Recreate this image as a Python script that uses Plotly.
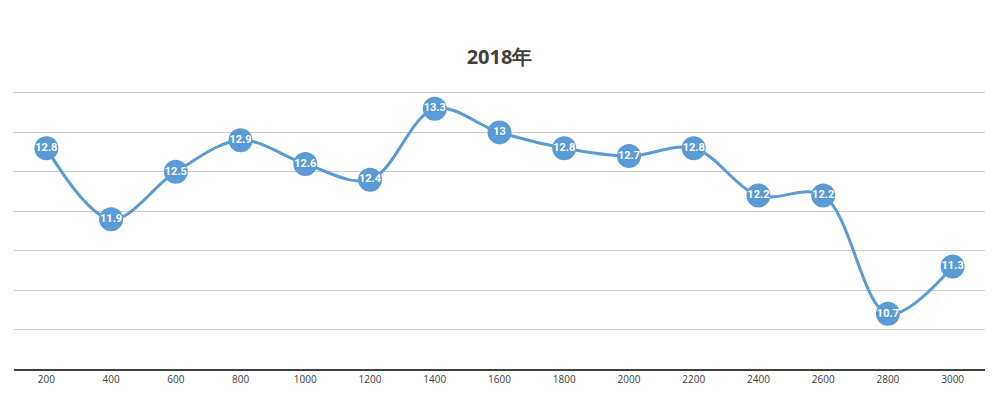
import plotly.graph_objects as go

categories = ["200", "400", "600", "800", "1000", "1200", "1400", "1600", "1800",
              "2000", "2200", "2400", "2600", "2800", "3000"]
values = [12.8, 11.9, 12.5, 12.9, 12.6, 12.4, 13.3, 13, 12.8, 12.7, 12.8, 12.2, 12.2, 10.7, 11.3]
labels = [str(v) for v in values]
title_text = "2018年"

fig = go.Figure()
fig.add_trace(go.Scatter(
    x=categories, y=values,
    mode="lines+markers+text",
    text=labels,
    textposition="middle center",
    textfont=dict(color="white", size=11, family="Roboto", weight="bold"),
    line=dict(color="#5B9BD5", width=3, shape="spline", smoothing=1),
    marker=dict(color="#5B9BD5", size=24, line=dict(width=0)),
    cliponaxis=False,
    hoverinfo="x+y",
))

fig.update_layout(
    width=999, height=415,
    margin=dict(l=14, r=14, t=89, b=46),
    paper_bgcolor="white", plot_bgcolor="white",
    title=dict(text=title_text, x=0.5, xanchor="center", y=0.862, yanchor="middle",
               font=dict(size=20, color="#404040", family="Open Sans", weight="bold")),
    showlegend=False,
    xaxis=dict(type="category", range=[-0.5, 14.5], showgrid=False,
               showline=True, linecolor="#404040", linewidth=2,
               ticks="", tickfont=dict(size=10, color="#404040", family="Open Sans"),
               fixedrange=True),
    yaxis=dict(range=[10, 13.55], dtick=0.5, tick0=10, showgrid=True, gridcolor="#cccccc",
               gridwidth=1, showticklabels=False, zeroline=False, showline=False,
               fixedrange=True),
)

fig.write_html("out.html")
